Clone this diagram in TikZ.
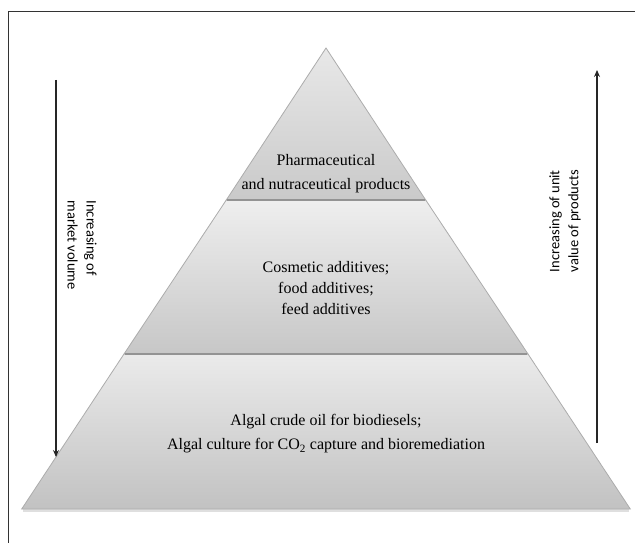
\documentclass[tikz,border=0pt]{standalone}
\usepackage{fontspec}
\setmainfont{Liberation Serif}
\newfontfamily\calib{Carlito}
\usetikzlibrary{arrows.meta}
\begin{document}
\begin{tikzpicture}[x=1pt,y=-1pt,
  band/.style={draw=gray!65, line width=0.8pt},
  sepline/.style={draw=gray!85, line width=1.2pt},
  ptext/.style={align=center, font=\fontsize{16}{24}\selectfont, inner sep=0pt},
  mtext/.style={align=center, font=\fontsize{16}{21}\selectfont, inner sep=0pt},
  atext/.style={align=left, font=\calib\fontsize{14.5}{19}\selectfont, inner sep=0pt},
  arr/.style={-{Stealth[length=7pt,width=6pt,inset=2.5pt]}, line width=1.1pt, black!85},
  frameline/.style={draw=black!80, line width=1pt}]
\useasboundingbox (0,0) rectangle (635,543);
\fill[white] (0,0) rectangle (635,543);
% frame
\draw[frameline] (8,543) -- (8,12) -- (635,12);
% shadow under base
\fill[gray!25] (23,509) -- (629,509) -- (629,512) -- (23,512) -- cycle;
% pyramid bands
\path[band, top color=gray!16, bottom color=gray!48] (124,354) -- (528,354) -- (630.3,509) -- (21.7,509) -- cycle;
\path[band, top color=gray!13, bottom color=gray!44] (226.3,200) -- (425.7,200) -- (528,354) -- (124,354) -- cycle;
\path[band, top color=gray!18, bottom color=gray!42] (326,48) -- (425.7,200) -- (226.3,200) -- cycle;
\draw[sepline] (226.8,200) -- (425.2,200);
\draw[sepline] (124.6,354) -- (527.4,354);
% texts
\node[ptext] (pharma) at (326,174) {Pharmaceutical\\and nutraceutical products};
\node[mtext] (cosm) at (326,288) {Cosmetic additives;\\food additives;\\feed additives};
\node[ptext] (algal) at (326,434) {Algal crude oil for biodiesels;\\Algal culture for CO\textsubscript{2} capture and bioremediation};
\node[atext, rotate=-90] (mv) at (82,245) {Increasing of\\market volume};
\node[atext, rotate=90] (uv) at (565,221) {Increasing of unit\\value of products};
% arrows
\coordinate (la1) at (56,80);
\coordinate (la2) at (56,457);
\coordinate (ra1) at (597,443);
\coordinate (ra2) at (597,70);
\draw[arr] (la1) -- (la2);
\draw[arr] (ra1) -- (ra2);
\end{tikzpicture}
\end{document}
